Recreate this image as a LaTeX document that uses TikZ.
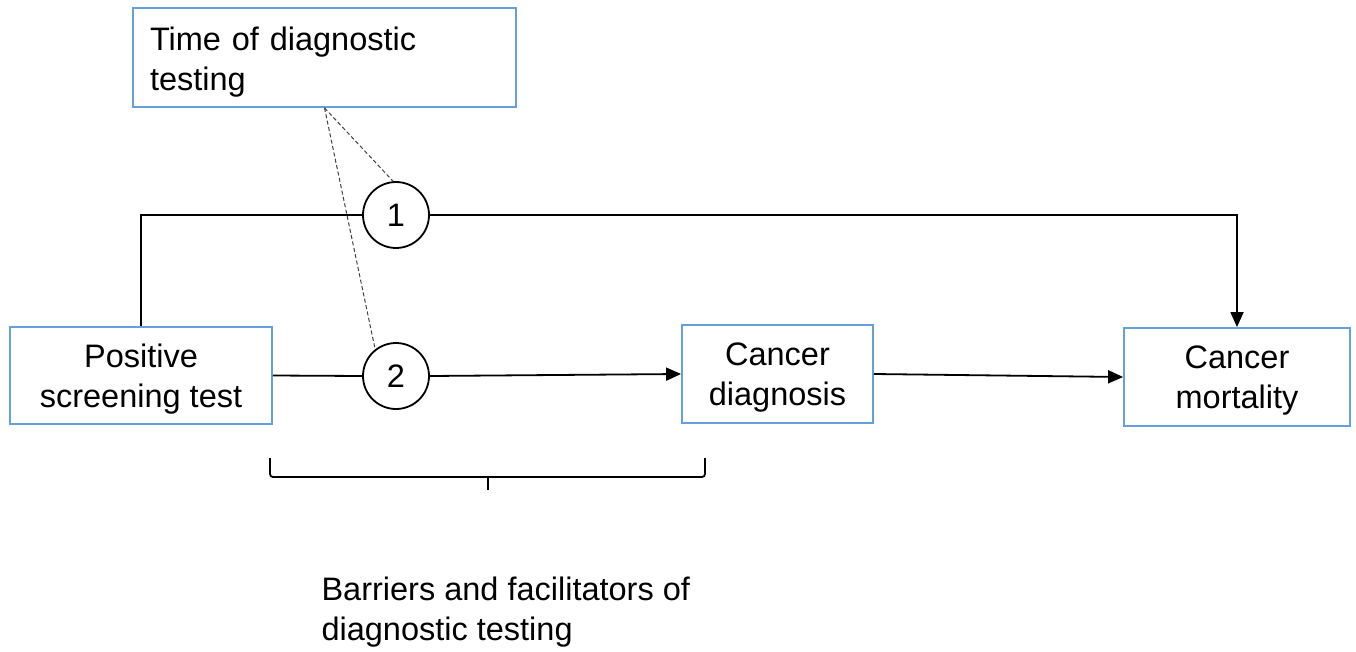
\documentclass[tikz,border=0pt]{standalone}
\usepackage{fontspec}
\setmainfont{Liberation Sans}
\usetikzlibrary{arrows.meta}
\definecolor{boxblue}{RGB}{100,160,220}
\begin{document}
\begin{tikzpicture}[x=1pt,y=-1pt,
  lbl/.style={font=\fontsize{32.5}{40}\selectfont},
  box/.style={lbl,draw=boxblue,line width=1.8pt,fill=white,inner sep=0pt,align=center,text depth=0pt},
  circ/.style={lbl,draw,circle,line width=1.8pt,minimum size=66pt,inner sep=0pt},
  conn/.style={line width=1.8pt},
  arr/.style={conn,-{Triangle[length=15pt,width=13pt]}},
  dashline/.style={line width=1pt,dash pattern=on 4pt off 2.5pt,black!75},
]
\useasboundingbox (0,0) rectangle (1356,652);

\node[box,minimum height=99pt,text width=349pt,inner xsep=17pt,align=left,text depth=37pt] (tb) at (324.5,57.5) {Time of diagnostic\\testing};
\node[box,minimum width=262pt,minimum height=97pt] (pst) at (141,375.5) {Positive\\screening test};
\node[box,minimum width=191pt,minimum height=98pt] (cd) at (777.5,374) {Cancer\\diagnosis};
\node[box,minimum width=226pt,minimum height=98pt] (cm) at (1237,377) {Cancer\\mortality};

\node[circ] (c1) at (396,215) {1};
\node[circ] (c2) at (396,376) {2};

\draw[conn] (pst.north) |- (c1.west);
\draw[arr] (c1.east) -| (cm.north);
\draw[conn] (pst.east) -- (c2.west);
\draw[arr] (c2.east) -- (cd.west);
\draw[arr] (cd.east) -- (cm.west);

\draw[dashline] (tb.south) -- (c1.95);
\draw[dashline] (tb.south) -- (c2.128);

\draw[conn,rounded corners=3pt] (270,458) -- (270,477) -- (705,477) -- (705,458);
\draw[conn] (488,477) -- (488,490);

\node[lbl,align=left,anchor=west] (bf) at (318,612) {Barriers and facilitators of\\diagnostic testing};
\end{tikzpicture}
\end{document}
